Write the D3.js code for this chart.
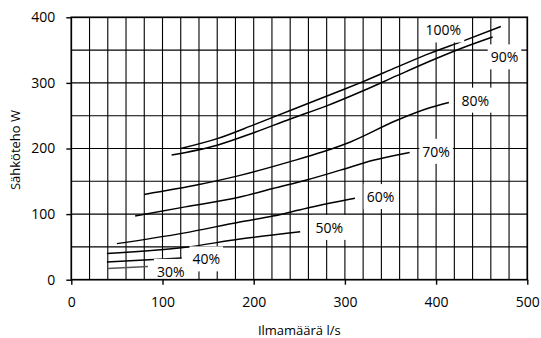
<!DOCTYPE html>
<html>
<head>
<meta charset="utf-8">
<script src="https://cdn.jsdelivr.net/npm/d3@7"></script>
<style>
  html, body { margin: 0; padding: 0; background: #fff; }
  svg { display: block; }
</style>
</head>
<body>
<div id="chart"></div>
<script>
// ── DATA ──────────────────────────────────────────────────────────────────
// Fan power (W) vs air flow (l/s), one curve per speed setting.
const xTicks = [0, 100, 200, 300, 400, 500];
const yTicks = [0, 100, 200, 300, 400];

const curveNames = ["100%", "90%", "80%", "70%", "60%", "50%", "40%", "30%"];
const curve100 = [[120,200],[160,215],[200,236],[240,258],[295,288],[320,302],[357,324],[393,345],[430,364],[471,386]];
const curve90  = [[110,190],[160,205],[200,224],[240,245],[280,265],[320,288],[357,311],[393,333],[430,354],[462,370]];
const curve80  = [[80,130],[140,145],[185,159],[240,180],[276,195],[306,210],[357,243],[393,262],[414,270]];
const curve70  = [[70,97],[125,111],[185,126],[221,139],[258,152],[295,167],[331,182],[371,194]];
const curve60  = [[50,55],[123,71],[185,88],[221,97],[258,109],[311,124]];
const curve50  = [[39,40],[123,49],[185,62],[251,73]];
const curve40  = [[39,27],[121,33]];
const curve30  = [[40,17],[84,20]];
const curves = [curve100, curve90, curve80, curve70, curve60, curve50, curve40, curve30];

// label anchor (center) positions in data units
const labelX = [408, 475, 443, 400, 339, 283, 148, 109];
const labelY = [380, 339, 273, 195, 126, 79, 31, 12];

(function () {
  // ── LAYOUT ──────────────────────────────────────────────────────────────
  const totalW = 541, totalH = 338;
  const pl = 71.3, pr = 527.3, pt = 17.3, pb = 279.7;
  const FONT = "'Open Sans', 'DejaVu Sans', sans-serif";

  const x = d3.scaleLinear().domain([0, 500]).range([pl, pr]);
  const y = d3.scaleLinear().domain([0, 400]).range([pb, pt]);

  const svg = d3.select("#chart").append("svg")
    .attr("width", totalW)
    .attr("height", totalH);

  svg.append("rect").attr("width", totalW).attr("height", totalH).attr("fill", "#fff");

  // ── GRID ────────────────────────────────────────────────────────────────
  svg.append("g").selectAll("line")
    .data(d3.range(20, 500, 20))
    .join("line")
    .attr("x1", d => x(d)).attr("x2", d => x(d))
    .attr("y1", pt).attr("y2", pb)
    .attr("stroke", "#000").attr("stroke-width", 1.1);

  svg.append("g").selectAll("line")
    .data(d3.range(50, 400, 50))
    .join("line")
    .attr("x1", pl).attr("x2", pr)
    .attr("y1", d => y(d)).attr("y2", d => y(d))
    .attr("stroke", "#000").attr("stroke-width", 1.1);

  // ── CURVES ──────────────────────────────────────────────────────────────
  const lineGen = d3.line()
    .x(d => x(d[0]))
    .y(d => y(d[1]))
    .curve(d3.curveMonotoneX);

  svg.append("g").selectAll("path")
    .data(curves)
    .join("path")
    .attr("fill", "none")
    .attr("stroke", (d, i) => i === 7 ? "#555" : "#000")
    .attr("stroke-width", 1.5)
    .attr("d", lineGen);

  // ── CURVE LABELS (white boxes knock out the grid) ───────────────────────
  curveNames.forEach((name, i) => {
    const box = svg.append("rect").attr("fill", "#fff");
    const t = svg.append("text")
      .attr("x", x(labelX[i]))
      .attr("y", y(labelY[i]))
      .attr("dy", "0.36em")
      .attr("text-anchor", "middle")
      .attr("font-family", FONT)
      .attr("font-size", "14px")
      .attr("fill", "#000")
      .text(name);
    const bb = t.node().getBBox();
    box.attr("x", bb.x - 3).attr("y", bb.y - 3)
      .attr("width", bb.width + 6).attr("height", bb.height + 6);
  });

  // ── FRAME + AXES ────────────────────────────────────────────────────────
  svg.append("rect")
    .attr("x", pl).attr("y", pt)
    .attr("width", pr - pl).attr("height", pb - pt)
    .attr("fill", "none").attr("stroke", "#000").attr("stroke-width", 1.7);

  svg.append("g")
    .attr("transform", `translate(0,${pb})`)
    .call(d3.axisBottom(x).tickValues(xTicks).tickSize(5).tickPadding(12))
    .call(ax => ax.select(".domain").remove())
    .call(ax => ax.selectAll(".tick line").attr("stroke", "#000").attr("stroke-width", 1.4))
    .call(ax => ax.selectAll(".tick text")
      .attr("font-family", FONT).attr("font-size", "14px").attr("fill", "#000"));

  svg.append("g")
    .attr("transform", `translate(${pl},0)`)
    .call(d3.axisLeft(y).tickValues(yTicks).tickSize(5).tickPadding(11))
    .call(ax => ax.select(".domain").remove())
    .call(ax => ax.selectAll(".tick line").attr("stroke", "#000").attr("stroke-width", 1.4))
    .call(ax => ax.selectAll(".tick text")
      .attr("font-family", FONT).attr("font-size", "14px").attr("fill", "#000"));

  // ── AXIS TITLES ─────────────────────────────────────────────────────────
  svg.append("text")
    .attr("x", (pl + pr) / 2)
    .attr("y", 335)
    .attr("text-anchor", "middle")
    .attr("font-family", FONT)
    .attr("font-size", "13px")
    .attr("fill", "#000")
    .text("Ilmamäärä l/s");

  svg.append("text")
    .attr("transform", "rotate(-90)")
    .attr("x", -150)
    .attr("y", 20)
    .attr("text-anchor", "middle")
    .attr("font-family", FONT)
    .attr("font-size", "13px")
    .attr("fill", "#000")
    .text("Sähköteho W");
})();
</script>
</body>
</html>
